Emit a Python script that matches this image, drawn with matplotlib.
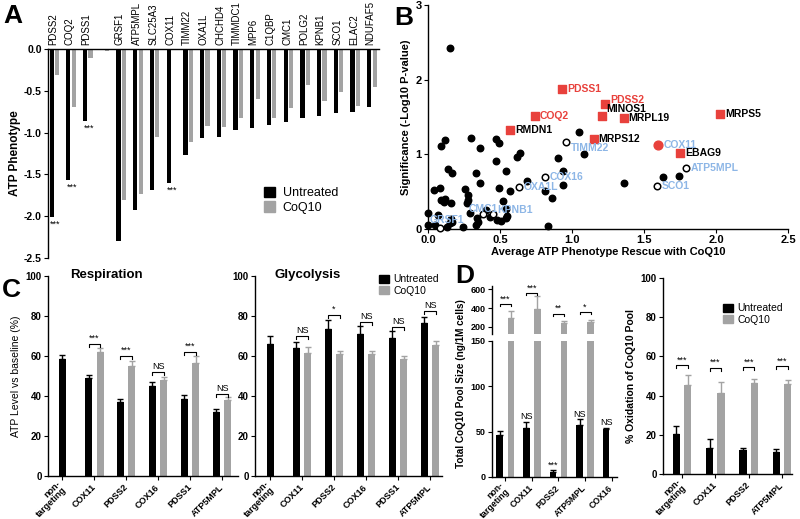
import numpy as np
import matplotlib
matplotlib.use("Agg")
import matplotlib.pyplot as plt

plt.rcParams["font.family"] = ["Liberation Sans", "DejaVu Sans"]
plt.rcParams["axes.linewidth"] = 1.0
plt.rcParams["xtick.direction"] = "out"
plt.rcParams["ytick.direction"] = "out"

BLACK = "#000000"
GREY = "#a3a3a3"
RED = "#e8413c"
BLUE = "#8db6e6"

# ---------------- panel A data ----------------
a_genes = ["PDSS2", "COQ2", "PDSS1", "", "GRSF1", "ATP5MPL", "SLC25A3", "COX11",
           "TIMM22", "OXA1L", "CHCHD4", "TIMMDC1", "MPP6", "C1QBP", "CMC1",
           "POLG2", "KPNB1", "SCO1", "ELAC2", "NDUFAF5"]
a_untreated = [-2.01, -1.57, -0.86, 0.0, -2.30, -1.93, -1.69, -1.60, -1.27, -1.07,
               -1.05, -0.97, -0.95, -0.91, -0.87, -0.83, -0.80, -0.76, -0.75, -0.69]
a_coq10 = [-0.31, -0.69, -0.11, -0.02, -1.81, -1.73, -1.05, -0.01, -1.11, -0.92,
           -0.93, -0.83, -0.60, -0.82, -0.71, -0.43, -0.62, -0.51, -0.68, -0.46]
a_star_idx = [0, 1, 2, 7]

# ---------------- panel B data ----------------
b_dots_x = [0.09, 0.12, 0.30, 0.47, 0.49, 0.36, 0.47, 0.64, 0.62, 0.14, 0.17, 0.33,
            0.54, 0.36, 0.04, 0.08, 0.26, 0.49, 0.57, 0.69, 0.09, 0.11, 0.12, 0.16,
            0.28, 0.28, 0.27, 0.52, 0.07, 0.00, 0.29, 0.40, 0.54, 0.34, 0.35, 0.33,
            0.43, 0.48, 0.51, 0.54, 0.55, 0.16, 0.17, 0.15, 0.24, 0.05, 0.00, 0.13,
            0.83, 0.86, 0.81, 0.94, 0.94, 0.90, 1.05, 1.08, 1.36, 1.63, 1.74, 0.15]
b_dots_y = [1.11, 1.19, 1.22, 1.20, 1.15, 1.08, 0.91, 1.02, 0.96, 0.80, 0.75, 0.75,
            0.78, 0.61, 0.52, 0.55, 0.54, 0.55, 0.51, 0.64, 0.39, 0.36, 0.40, 0.35,
            0.46, 0.39, 0.35, 0.37, 0.19, 0.21, 0.21, 0.25, 0.27, 0.15, 0.09, 0.05,
            0.16, 0.12, 0.11, 0.15, 0.17, 0.13, 0.09, 0.08, 0.03, 0.05, 0.05, 0.03,
            0.04, 0.41, 0.51, 0.59, 0.78, 0.95, 1.30, 1.00, 0.61, 0.70, 0.71, 2.43]
b_open_names = ["TIMM22", "COX16", "OXA1L", "CMC1", "KPNB1", "GRSF1", "ATP5MPL", "SCO1"]
b_open_x = [0.96, 0.81, 0.63, 0.38, 0.45, 0.08, 1.79, 1.59]
b_open_y = [1.16, 0.70, 0.56, 0.20, 0.20, 0.01, 0.82, 0.58]
b_sq_names = ["PDSS1", "PDSS2", "COQ2", "MINOS1", "MRPL19", "MRPS5", "MRPS12", "EBAG9", "RMDN1"]
b_sq_x = [0.93, 1.23, 0.74, 1.21, 1.36, 2.03, 1.15, 1.75, 0.57]
b_sq_y = [1.87, 1.67, 1.51, 1.51, 1.49, 1.54, 1.21, 1.02, 1.32]
b_sq_red_label = ["PDSS1", "PDSS2", "COQ2"]
b_red_circle = ("COX11", 1.60, 1.12)

# ---------------- panel C data ----------------
c_genes = ["non-\ntargeting", "COX11", "PDSS2", "COX16", "PDSS1", "ATP5MPL"]
resp_untreated = [58.5, 49.0, 37.0, 45.0, 38.5, 32.0]
resp_untreated_err = [2.0, 1.3, 1.3, 2.0, 2.0, 1.3]
resp_coq10 = [np.nan, 62.0, 55.0, 48.0, 56.5, 38.0]
resp_coq10_err = [np.nan, 2.0, 2.5, 1.5, 3.5, 1.5]
resp_sig = ["", "***", "***", "NS", "***", "NS"]
resp_sig_y = [0, 66, 60, 52, 62, 41]

gly_untreated = [66.0, 64.0, 73.5, 71.0, 69.0, 76.5]
gly_untreated_err = [4.0, 3.0, 4.5, 4.0, 3.5, 3.0]
gly_coq10 = [np.nan, 61.5, 61.0, 61.0, 58.5, 65.5]
gly_coq10_err = [np.nan, 3.0, 1.5, 1.5, 1.5, 1.8]
gly_sig = ["", "NS", "*", "NS", "NS", "NS"]
gly_sig_y = [0, 70, 80.5, 77, 74.5, 82.5]

# ---------------- panel D data ----------------
d_genes = ["non-\ntargeting", "COX11", "PDSS2", "ATP5MPL", "COX16"]
pool_untreated = [46.0, 54.0, 6.0, 57.0, 53.0]
pool_untreated_err = [5.0, 6.5, 1.2, 6.5, 1.5]
pool_untreated_sig = ["", "NS", "***", "NS", "NS"]
pool_coq10 = [290.0, 390.0, 240.0, 250.0, np.nan]
pool_coq10_err = [80.0, 140.0, 20.0, 25.0, np.nan]
pool_sig = ["***", "***", "**", "*", ""]
pool_sig_y = [440, 560, 340, 355, 0]

d2_genes = ["non-\ntargeting", "COX11", "PDSS2", "ATP5MPL"]
ox_untreated = [20.5, 13.5, 12.5, 11.0]
ox_untreated_err = [4.0, 4.5, 1.0, 2.0]
ox_coq10 = [45.5, 41.5, 46.5, 46.0]
ox_coq10_err = [5.0, 5.5, 2.0, 2.0]
ox_sig = ["***", "***", "***", "***"]
ox_sig_y = [55.5, 54, 54.5, 55]

W, H = 800, 519
fig = plt.figure(figsize=(W / 100, H / 100), dpi=100)


def px_axes(left, top, right, bottom):
    return fig.add_axes([left / W, 1 - bottom / H, (right - left) / W, (bottom - top) / H])


def style(ax, fs=7):
    for s in ["top", "right"]:
        ax.spines[s].set_visible(False)
    ax.tick_params(length=3, width=0.8, labelsize=fs, pad=1.5)


def bars_with_err(ax, x, vals, errs, color, width):
    x = np.asarray(x, float)
    vals = np.asarray(vals, float)
    errs = np.asarray(errs, float)
    ok = ~np.isnan(vals)
    ax.bar(x[ok], vals[ok], width=width, color=color, zorder=2)
    ax.errorbar(x[ok], vals[ok], yerr=[np.zeros(ok.sum()), errs[ok]], fmt="none",
                ecolor=color, elinewidth=1, capsize=2.2, capthick=1, zorder=1)


def bracket(ax, x1, x2, y, text, dy, fs=6.5):
    ax.plot([x1, x1, x2, x2], [y - dy, y, y, y - dy], color="k", lw=0.8, clip_on=False)
    ax.text((x1 + x2) / 2, y + dy * 0.3, text, ha="center", va="bottom", fontsize=fs,
            clip_on=False)


def cat_labels(ax, pos, labels, fs=6.5):
    ax.set_xticks(pos)
    ax.set_xticklabels(labels, rotation=45, ha="right", va="center",
                       rotation_mode="anchor", fontsize=fs, fontweight="bold",
                       linespacing=0.9)
    ax.tick_params(axis="x", pad=4)


def yticks_bold(ax, ticks, labels):
    ax.set_yticks(ticks)
    ax.set_yticklabels(labels, fontweight="bold")


def legend_box(ax, anchor, fs):
    ax.legend(handles=[plt.Rectangle((0, 0), 1, 1, color=BLACK),
                       plt.Rectangle((0, 0), 1, 1, color=GREY)],
              labels=["Untreated", "CoQ10"], loc="upper left", bbox_to_anchor=anchor,
              frameon=False, fontsize=fs, handlelength=0.9, handleheight=0.8,
              handletextpad=0.5, labelspacing=0.15, borderaxespad=0)


# ================= A =================
axA = px_axes(48, 49, 379, 258)
xa = np.arange(len(a_genes))
axA.bar(xa - 0.08, a_untreated, width=0.25, color=BLACK)
axA.bar(xa + 0.24, a_coq10, width=0.25, color=GREY)
axA.set_xlim(-0.3, 19.5)
axA.set_ylim(-2.5, 0)
axA.spines["right"].set_visible(False)
axA.spines["bottom"].set_visible(False)
axA.xaxis.tick_top()
axA.set_xticks(xa[[i for i, g in enumerate(a_genes) if g]])
axA.set_xticklabels([g for g in a_genes if g], rotation=90, fontsize=7)
axA.tick_params(axis="x", length=0, pad=3)
axA.tick_params(axis="y", length=3, width=0.8, labelsize=7.5, pad=1.5)
yticks_bold(axA, [0, -0.5, -1.0, -1.5, -2.0, -2.5],
            ["0.0", "-0.5", "-1.0", "-1.5", "-2.0", "-2.5"])
axA.set_ylabel("ATP Phenotype", fontsize=8.5, fontweight="bold", labelpad=2)
for i in a_star_idx:
    axA.text(xa[i] + 0.15, a_untreated[i] - 0.03, "***", ha="center", va="top", fontsize=6.5)
axA.legend(handles=[plt.Rectangle((0, 0), 1, 1, color=BLACK),
                    plt.Rectangle((0, 0), 1, 1, color=GREY)],
           labels=["Untreated", "CoQ10"], loc="upper left",
           bbox_to_anchor=((259 - 48) / 331, (258 - 182) / 209), frameon=False,
           fontsize=9, handlelength=0.9, handleheight=0.9, handletextpad=0.6,
           labelspacing=0.15, borderaxespad=0)

# ================= B =================
axB = px_axes(428, 5, 788, 229)
style(axB, 8)
axB.scatter(b_dots_x, b_dots_y, s=22, color=BLACK, zorder=3, clip_on=False)
axB.scatter(b_open_x, b_open_y, s=22, facecolors="white", edgecolors=BLACK,
            linewidths=1.1, zorder=4, clip_on=False)
axB.scatter(b_sq_x, b_sq_y, s=26, marker="s", color=RED, zorder=4)
axB.scatter([b_red_circle[1]], [b_red_circle[2]], s=40, color=RED, zorder=4)
offsets = {"TIMM22": (3, -4), "CMC1": (-10, 4), "KPNB1": (3, 3), "GRSF1": (-7, 6),
           "MINOS1": (3, 5), "PDSS2": (4, 3)}
lab_fs = 7.5
for n, x, y in zip(b_open_names, b_open_x, b_open_y):
    axB.annotate(n, (x, y), xytext=offsets.get(n, (3.5, 0)), textcoords="offset points",
                 color=BLUE, fontsize=lab_fs, fontweight="bold", va="center", zorder=5)
for n, x, y in zip(b_sq_names, b_sq_x, b_sq_y):
    c = RED if n in b_sq_red_label else BLACK
    axB.annotate(n, (x, y), xytext=offsets.get(n, (3.5, 0)), textcoords="offset points",
                 color=c, fontsize=lab_fs, fontweight="bold", va="center", zorder=5)
axB.annotate(b_red_circle[0], (b_red_circle[1], b_red_circle[2]), xytext=(4, 0),
             textcoords="offset points", color=BLUE, fontsize=lab_fs,
             fontweight="bold", va="center")
axB.set_xlim(0, 2.5)
axB.set_ylim(0, 3)
axB.set_xticks([0, 0.5, 1.0, 1.5, 2.0, 2.5])
axB.set_xticklabels(["0.0", "0.5", "1.0", "1.5", "2.0", "2.5"], fontweight="bold")
yticks_bold(axB, [0, 1, 2, 3], ["0", "1", "2", "3"])
axB.set_xlabel("Average ATP Phenotype Rescue with CoQ10", fontsize=8,
               fontweight="bold", labelpad=1)
axB.set_ylabel("Significance (-Log10 P-value)", fontsize=8, fontweight="bold", labelpad=3)

# ================= C =================
xc = np.arange(len(c_genes))
off_c = np.where(np.isnan(resp_coq10), 0.0, -0.18)
panels_c = [
    (resp_untreated, resp_untreated_err, resp_coq10, resp_coq10_err, resp_sig,
     resp_sig_y, (48, 276, 238, 476), "Respiration", 106, (-0.45, 5.5)),
    (gly_untreated, gly_untreated_err, gly_coq10, gly_coq10_err, gly_sig,
     gly_sig_y, (255, 276, 442, 476), "Glycolysis", 308, (-0.47, 5.37)),
]
for un, une, cq, cqe, sig, sigy, box, title, tx, xl in panels_c:
    ax = px_axes(*box)
    style(ax, 7)
    bars_with_err(ax, xc + off_c, un, une, BLACK, 0.22)
    bars_with_err(ax, xc + 0.18, cq, cqe, GREY, 0.22)
    for i, s in enumerate(sig):
        if s:
            bracket(ax, xc[i] - 0.18, xc[i] + 0.18, sigy[i], s, 1.6)
    ax.set_ylim(0, 100)
    yticks_bold(ax, [0, 20, 40, 60, 80, 100], ["0", "20", "40", "60", "80", "100"])
    ax.set_xlim(*xl)
    cat_labels(ax, xc, c_genes)
    fig.text(tx / W, 1 - 275 / H, title, ha="center", va="center", fontsize=9.5,
             fontweight="bold")
    if title == "Respiration":
        ax.set_ylabel("ATP Level vs baseline (%)", fontsize=7.5, labelpad=3)
    else:
        legend_box(ax, ((375 - 255) / 187, 1.0 + 6 / 200), 7.5)

# ================= D left (broken axis) =================
xd = np.arange(len(d_genes))
axDt = px_axes(492, 285.6, 617, 334.2)
axDb = px_axes(492, 341, 617, 477)
for ax in (axDt, axDb):
    style(ax, 6.5)
    bars_with_err(ax, xd - 0.21, pool_untreated, pool_untreated_err, BLACK, 0.25)
    bars_with_err(ax, xd + 0.21, pool_coq10, pool_coq10_err, GREY, 0.25)
    ax.set_xlim(-0.5, 4.2)
axDt.set_ylim(120, 640)
yticks_bold(axDt, [200, 400, 600], ["200", "400", "600"])
axDt.spines["bottom"].set_visible(False)
axDt.set_xticks([])
axDb.set_ylim(0, 150)
yticks_bold(axDb, [0, 50, 100, 150], ["0", "50", "100", "150"])
cat_labels(axDb, xd, d_genes, fs=6.3)
for i, s in enumerate(pool_untreated_sig):
    if s:
        axDb.text(xd[i] - 0.21, pool_untreated[i] + pool_untreated_err[i] + 1, s,
                  ha="center", va="bottom", fontsize=6.5)
for i, s in enumerate(pool_sig):
    if s:
        bracket(axDt, xd[i] - 0.21, xd[i] + 0.21, pool_sig_y[i], s, 22)
fig.text(461 / W, 1 - 384 / H, "Total CoQ10 Pool Size (ng/1M cells)", rotation=90,
         ha="center", va="center", fontsize=7.2, fontweight="bold")

# ================= D right =================
xd2 = np.arange(len(d2_genes))
axD2 = px_axes(663, 278, 792, 474)
style(axD2, 7)
bars_with_err(axD2, xd2 - 0.17, ox_untreated, ox_untreated_err, BLACK, 0.22)
bars_with_err(axD2, xd2 + 0.17, ox_coq10, ox_coq10_err, GREY, 0.22)
for i, s in enumerate(ox_sig):
    bracket(axD2, xd2[i] - 0.17, xd2[i] + 0.17, ox_sig_y[i], s, 1.6)
axD2.set_ylim(0, 100)
axD2.set_xlim(-0.57, 3.3)
yticks_bold(axD2, [0, 20, 40, 60, 80, 100], ["0", "20", "40", "60", "80", "100"])
cat_labels(axD2, xd2, d2_genes)
axD2.set_ylabel("% Oxidation of CoQ10 Pool", fontsize=7.5, fontweight="bold", labelpad=3)
legend_box(axD2, ((719 - 663) / 129, (474 - 299) / 196), 7.5)

# panel letters
for letter, x, y in [("A", 3, 16), ("B", 394, 18), ("C", 2, 290), ("D", 455, 276)]:
    fig.text(x / W, 1 - y / H, letter, fontsize=19, fontweight="bold", va="center",
             ha="left")

fig.savefig("out.png", dpi=100)
